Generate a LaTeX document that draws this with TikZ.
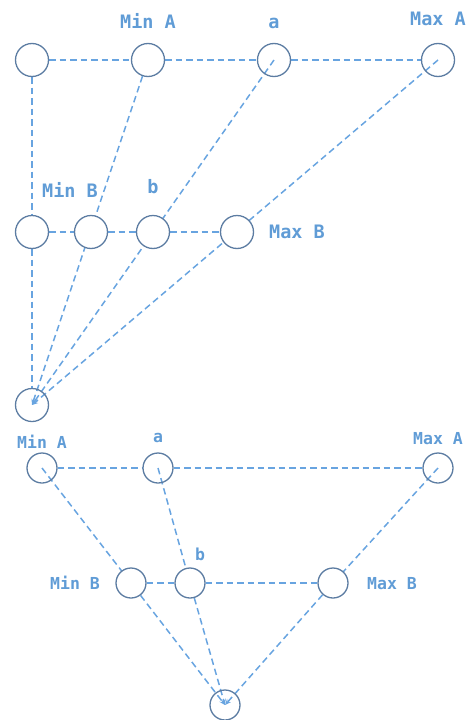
\documentclass[tikz,border=0pt]{standalone}
\usepackage{fontspec}
\newfontfamily\monofont{DejaVu Sans Mono}
\usetikzlibrary{arrows.meta,backgrounds}
\definecolor{circ}{RGB}{92,124,162}
\definecolor{edge}{RGB}{104,164,224}
\definecolor{lbl}{RGB}{96,156,214}
\tikzset{
  bignode/.style={circle,draw=circ,line width=1.3pt,minimum size=33pt,inner sep=0pt},
  smallnode/.style={circle,draw=circ,line width=1.3pt,minimum size=30pt,inner sep=0pt},
  midfill/.style={fill=white},
  link/.style={draw=edge,line width=1.5pt,dash pattern=on 6.5pt off 4pt},
  arrowlink/.style={link,-{Stealth[length=6pt,width=5pt]}},
  biglabel/.style={anchor=base,text=lbl,font=\monofont\bfseries\fontsize{18.5}{20}\selectfont,inner sep=0pt},
  smalllabel/.style={anchor=base,text=lbl,font=\monofont\bfseries\fontsize{16.5}{18}\selectfont,inner sep=0pt}
}
\begin{document}
\begin{tikzpicture}[x=1pt,y=-1pt]
\useasboundingbox (0,0) rectangle (470,720);
% ---------- top diagram ----------
\node[bignode] (t0) at (32,60) {};
\node[bignode] (tMinA) at (148,60) {};
\node[bignode] (ta) at (274,60) {};
\node[bignode] (tMaxA) at (438,60) {};
\node[bignode,midfill] (m0) at (32,232) {};
\node[bignode,midfill] (mMinB) at (91,232) {};
\node[bignode,midfill] (mb) at (153,232) {};
\node[bignode,midfill] (mMaxB) at (237,232) {};
\node[bignode] (tbot) at (32,405) {};
\node[biglabel] (lMinA) at (148,28) {Min A};
\node[biglabel] (la) at (274,28) {a};
\node[biglabel] (lMaxA) at (438,25) {Max A};
\node[biglabel] (lMinB) at (70,197) {Min B};
\node[biglabel] (lb) at (153,193) {b};
\node[biglabel] (lMaxB) at (297,238) {Max B};
% ---------- bottom diagram ----------
\node[smallnode] (bMinA) at (42,468) {};
\node[smallnode] (ba) at (158,468) {};
\node[smallnode] (bMaxA) at (438,468) {};
\node[smallnode,midfill] (bMinB) at (131,583) {};
\node[smallnode,midfill] (bb) at (190,583) {};
\node[smallnode,midfill] (bMaxB) at (333,583) {};
\node[smallnode] (bbot) at (225,705) {};
\node[smalllabel] (kMinA) at (42,448) {Min A};
\node[smalllabel] (ka) at (158,442) {a};
\node[smalllabel] (kMaxA) at (438,444) {Max A};
\node[smalllabel] (kMinB) at (75,589) {Min B};
\node[smalllabel] (kb) at (200,560) {b};
\node[smalllabel] (kMaxB) at (392,589) {Max B};
\begin{scope}[on background layer]
  % top
  \draw[link] (t0) -- (tMinA);
  \draw[link] (tMinA) -- (ta);
  \draw[link] (ta) -- (tMaxA);
  \draw[link] (m0) -- (mMinB);
  \draw[link] (mMinB) -- (mb);
  \draw[link] (mb) -- (mMaxB);
  \draw[link] (t0) -- (m0);
  \draw[link] (m0) -- (tbot);
  \draw[arrowlink] (tMinA) -- (tbot.center);
  \draw[arrowlink] (ta.center) -- (tbot.center);
  \draw[arrowlink] (tMaxA.center) -- (tbot.center);
  % bottom
  \draw[link] (bMinA) -- (ba);
  \draw[link] (ba) -- (bMaxA);
  \draw[link] (bMinB) -- (bb);
  \draw[link] (bb) -- (bMaxB);
  \draw[link] (bMinA.center) -- (bMinB.center);
  \draw[link] (ba.center) -- (bb.center);
  \draw[link] (bMaxA.center) -- (bMaxB.center);
  \draw[arrowlink] (bMinB) -- (bbot.center);
  \draw[arrowlink] (bb) -- (bbot.center);
  \draw[arrowlink] (bMaxB) -- (bbot.center);
\end{scope}
\end{tikzpicture}
\end{document}
